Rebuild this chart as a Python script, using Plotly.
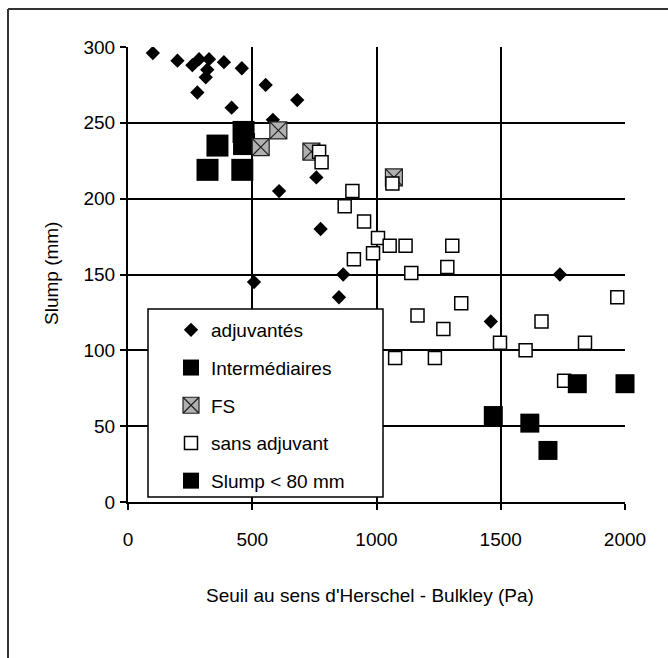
import plotly.graph_objects as go

# ---- data ----
adj_x = [100, 199, 259, 286, 326, 319, 313, 386, 458, 279, 417, 554, 681, 608, 583, 758, 775, 866, 849, 507, 1460, 1738]
adj_y = [296, 291, 288, 292, 292, 285, 280, 290, 286, 270, 260, 275, 265, 205, 252, 214, 180, 150, 135, 145, 119, 150]

inter_x = [320, 360, 460, 465, 467]
inter_y = [219, 235, 219, 244, 236]

fs_x = [534, 605, 738, 1070]
fs_y = [234, 245, 231, 214]

sans_x = [769, 779, 903, 872, 950, 1006, 986, 909, 1053, 1117, 1305, 1285, 1140, 1064,
          1165, 1341, 1269, 1497, 1600, 1664, 1839, 1969, 1755, 1075, 1235]
sans_y = [231, 224, 205, 195, 185, 174, 164, 160, 169, 169, 169, 155, 151, 210,
          123, 131, 114, 105, 100, 119, 105, 135, 80, 95, 95]

low_x = [1470, 1617, 1690, 1808, 2000]
low_y = [57, 52, 34, 78, 78]

x_ticks = [0, 500, 1000, 1500, 2000]
y_ticks = [0, 50, 100, 150, 200, 250, 300]

x_title = "Seuil au sens d'Herschel - Bulkley (Pa)"
y_title = "Slump (mm)"

FONT = "Liberation Sans, Arial, Helvetica, sans-serif"

fig = go.Figure()
fig.add_trace(go.Scatter(x=adj_x, y=adj_y, mode="markers", name="adjuvantés", legendgroup="a",
                         marker=dict(symbol="diamond", size=11, color="black")))
fig.add_trace(go.Scatter(x=inter_x, y=inter_y, mode="markers", name="Intermédiaires", legendgroup="b",
                         marker=dict(symbol="square", size=22, color="black")))
fig.add_trace(go.Scatter(x=fs_x, y=fs_y, mode="markers", name="FS", legendgroup="c",
                         marker=dict(symbol="square-x", size=17, color="#b0b0b0",
                                     line=dict(color="#222222", width=1.2))))
fig.add_trace(go.Scatter(x=sans_x, y=sans_y, mode="markers", name="sans adjuvant", legendgroup="d",
                         marker=dict(symbol="square", size=13, color="white",
                                     line=dict(color="black", width=1.5))))
fig.add_trace(go.Scatter(x=low_x, y=low_y, mode="markers", name="Slump < 80 mm", legendgroup="e",
                         cliponaxis=False,
                         marker=dict(symbol="square", size=19, color="black")))

L, R, T, B = 128, 43, 47, 156
W, H = 668, 658
pw, ph = W - L - R, H - T - B

def px(xp):
    return (xp - L) / pw

def py(yp):
    return (H - B - yp) / ph

shapes = [
    # outer frame (left and top edges visible)
    dict(type="line", xref="paper", yref="paper", x0=px(8), x1=px(8), y0=py(658), y1=py(9),
         line=dict(color="#333333", width=2)),
    dict(type="line", xref="paper", yref="paper", x0=px(8), x1=px(668), y0=py(9), y1=py(9),
         line=dict(color="#333333", width=2)),
    # legend box
    dict(type="rect", xref="paper", yref="paper", x0=px(148), x1=px(383), y0=py(497), y1=py(309),
         fillcolor="white", line=dict(color="black", width=1.5), layer="above"),
]

annotations = [
    dict(text=x_title, xref="paper", yref="paper", x=px(370), y=py(595),
         xanchor="center", yanchor="middle", showarrow=False,
         font=dict(family=FONT, size=19, color="black")),
    dict(text=y_title, xref="paper", yref="paper", x=px(51), y=py(274),
         xanchor="center", yanchor="middle", showarrow=False, textangle=-90,
         font=dict(family=FONT, size=19, color="black")),
]

fig.update_layout(
    width=W, height=H,
    margin=dict(l=L, r=R, t=T, b=B, autoexpand=False),
    paper_bgcolor="white", plot_bgcolor="white",
    font=dict(family=FONT, size=19, color="black"),
    shapes=shapes,
    annotations=annotations,
    showlegend=True,
    legend=dict(x=px(171), y=py(311), xanchor="left", yanchor="top",
                bgcolor="rgba(0,0,0,0)", borderwidth=0, tracegroupgap=10,
                font=dict(family=FONT, size=19, color="black")),
    xaxis=dict(range=[0, 2000], tickvals=x_ticks, showgrid=True, gridcolor="black", gridwidth=1.5,
               zeroline=False, showline=True, linecolor="black", linewidth=2,
               ticks="outside", ticklen=6, tickcolor="black", tickwidth=1.5,
               ticklabelstandoff=13, automargin=False),
    yaxis=dict(range=[0, 300], tickvals=y_ticks, showgrid=True, gridcolor="black", gridwidth=1.5,
               zeroline=False, showline=True, linecolor="black", linewidth=2,
               ticks="outside", ticklen=6, tickcolor="black", tickwidth=1.5,
               ticklabelstandoff=1, automargin=False),
)

fig.write_html("out.html")
